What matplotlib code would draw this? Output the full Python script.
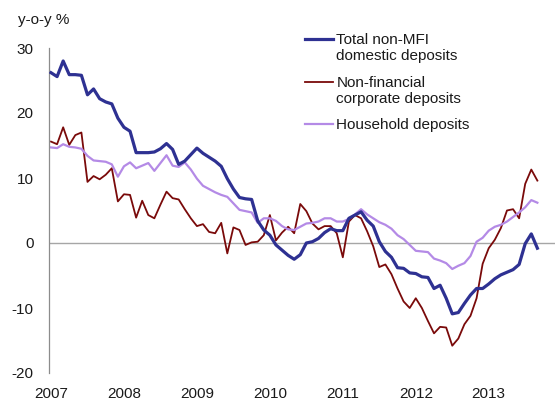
import numpy as np
import matplotlib
matplotlib.use("Agg")
import matplotlib.pyplot as plt
from matplotlib.legend_handler import HandlerLine2D

plt.rcParams['font.family'] = ['Liberation Sans', 'DejaVu Sans']
plt.rcParams['axes.unicode_minus'] = False

# Monthly y-o-y growth, Jan 2007 - Sep 2013
years = ["2007", "2008", "2009", "2010", "2011", "2012", "2013"]

total_deposits = [
    26.2, 25.6, 28.0, 25.9, 25.9, 25.8, 22.8, 23.7, 22.2, 21.7, 21.4, 19.2,   # 2007
    17.8, 17.2, 13.9, 13.9, 13.9, 14.0, 14.5, 15.3, 14.4, 12.1, 12.6, 13.6,   # 2008
    14.6, 13.8, 13.2, 12.6, 11.8, 9.9, 8.3, 7.0, 6.8, 6.7, 3.4, 2.0,         # 2009
    1.2, -0.3, -1.1, -1.9, -2.5, -1.8, 0.0, 0.2, 0.7, 1.6, 2.2, 1.9,         # 2010
    1.9, 3.8, 4.3, 4.8, 3.5, 2.6, 0.2, -1.3, -2.2, -3.8, -3.9, -4.6,         # 2011
    -4.7, -5.2, -5.3, -7.0, -6.5, -8.5, -10.9, -10.7, -9.3, -8.0, -7.0, -7.0,  # 2012
    -6.3, -5.5, -4.9, -4.5, -4.1, -3.3, -0.1, 1.4, -0.8,                     # 2013
]

corporate_deposits = [
    15.6, 15.2, 17.8, 15.1, 16.6, 17.0, 9.4, 10.3, 9.8, 10.5, 11.5, 6.4,
    7.5, 7.4, 3.9, 6.5, 4.3, 3.8, 5.9, 7.9, 6.9, 6.7, 5.2, 3.8,
    2.6, 2.9, 1.7, 1.5, 3.1, -1.6, 2.4, 2.0, -0.3, 0.1, 0.2, 1.2,
    4.3, 0.4, 1.6, 2.5, 1.5, 6.0, 4.9, 3.0, 2.1, 2.6, 2.6, 1.5,
    -2.2, 3.3, 4.3, 3.8, 1.8, -0.5, -3.7, -3.3, -4.8, -7.0, -9.0, -10.0,
    -8.5, -10.0, -12.0, -13.9, -12.9, -13.0, -15.8, -14.7, -12.5, -11.2, -8.5, -3.2,
    -0.8, 0.5, 2.3, 5.0, 5.2, 3.8, 9.1, 11.3, 9.6,
]

household_deposits = [
    14.7, 14.6, 15.2, 14.8, 14.7, 14.5, 13.4, 12.7, 12.6, 12.5, 12.1, 10.2,
    11.8, 12.4, 11.5, 11.9, 12.3, 11.1, 12.3, 13.5, 11.9, 11.7, 12.4, 11.3,
    9.9, 8.8, 8.3, 7.8, 7.4, 7.1, 6.1, 5.1, 4.9, 4.7, 3.1, 3.8,
    3.8, 3.4, 2.6, 2.1, 2.0, 2.5, 3.0, 3.1, 3.3, 3.8, 3.8, 3.3,
    3.3, 3.7, 4.4, 5.2, 4.4, 3.8, 3.2, 2.8, 2.2, 1.2, 0.6, -0.3,
    -1.2, -1.3, -1.4, -2.4, -2.7, -3.1, -4.0, -3.5, -3.1, -2.0, 0.2, 0.8,
    1.9, 2.5, 2.8, 3.3, 4.0, 4.7, 5.5, 6.6, 6.2,
]

labels = ["Total non-MFI\ndomestic deposits",
          "Non-financial\ncorporate deposits",
          "Household deposits"]

months = np.arange(len(total_deposits))

fig = plt.figure(figsize=(5.55, 4.01), dpi=100)
ax = fig.add_axes([49 / 555, 28 / 401, 506 / 555, 325 / 401])

text_col = "#1a1a1a"
fs = 11
ax.axhline(0, color="#a6a6a6", lw=1.0, zorder=1)

l1, = ax.plot(months, total_deposits, color="#2e3192", lw=2.3, label=labels[0], zorder=3)
l2, = ax.plot(months, corporate_deposits, color="#7a0a0a", lw=1.3, label=labels[1], zorder=2)
l3, = ax.plot(months, household_deposits, color="#b48ae6", lw=1.6, label=labels[2], zorder=2)

ax.set_xlim(-0.33, 82.9)
ax.set_ylim(-20, 30)
ax.set_yticks([-20, -10, 0, 10, 20, 30])
ax.set_xticks(np.arange(0, 84, 12))
ax.set_xticklabels(years)
ax.tick_params(axis="both", length=0, labelsize=fs, colors=text_col)
ax.tick_params(axis="y", pad=11)
ax.tick_params(axis="x", pad=10)

for s in ["top", "right", "bottom"]:
    ax.spines[s].set_visible(False)
ax.spines["left"].set_color("#8c8c8c")
ax.spines["left"].set_linewidth(0.9)

fig.text(18 / 555, 1 - 20 / 401, "y-o-y %", fontsize=fs, color=text_col, va="center", ha="left")


class TopLineHandler(HandlerLine2D):
    # put the legend line next to the first text row
    def __init__(self, shift=0.0, **kw):
        super().__init__(**kw)
        self.shift = shift

    def create_artists(self, legend, orig_handle, xdescent, ydescent, width, height, fontsize, trans):
        return super().create_artists(legend, orig_handle, xdescent, ydescent - 2 * self.shift,
                                      width, height, fontsize, trans)


leg = ax.legend(handles=[l1, l2, l3], loc="upper left",
                bbox_to_anchor=(305 / 555, 1 - 33 / 401), bbox_transform=fig.transFigure,
                frameon=False, fontsize=fs, handlelength=1.85, handletextpad=0.2,
                labelspacing=0.82, borderpad=0, borderaxespad=0,
                handler_map={l1: TopLineHandler(6.5), l2: TopLineHandler(6.5), l3: TopLineHandler(0)})
for t in leg.get_texts():
    t.set_color(text_col)
    t.set_linespacing(1.2)

fig.savefig("out.png", dpi=100)
